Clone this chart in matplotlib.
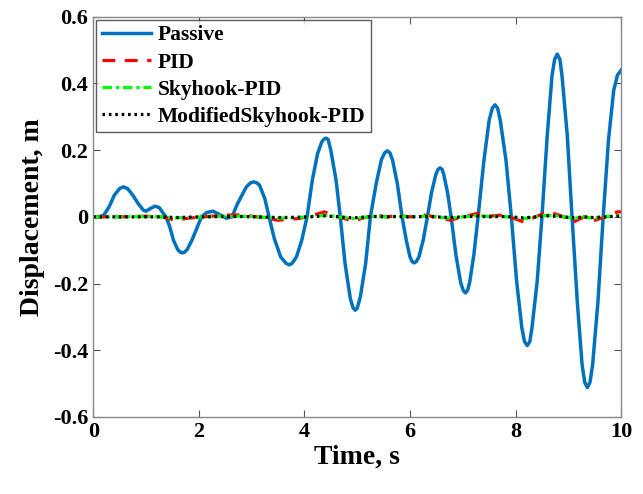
import matplotlib
matplotlib.use("Agg")
import matplotlib.pyplot as plt

plt.rcParams['font.family'] = ['Liberation Serif', 'DejaVu Serif']
plt.rcParams['font.weight'] = 'bold'

# passive response (time s, displacement m)
t_passive = [0.0, 0.1, 0.2, 0.3, 0.4, 0.5, 0.57, 0.65, 0.75, 0.85, 0.95, 1.0,
             1.08, 1.17, 1.25, 1.32, 1.38, 1.45, 1.52, 1.6, 1.65, 1.69, 1.73, 1.78, 1.87,
             1.96, 2.05, 2.15, 2.27, 2.38, 2.52, 2.63, 2.72, 2.8, 2.9, 2.98, 3.04, 3.1,
             3.15, 3.25, 3.33, 3.43, 3.55, 3.65, 3.71, 3.77, 3.85, 3.95, 4.05, 4.15, 4.25,
             4.33, 4.37, 4.41, 4.45, 4.5, 4.6, 4.68, 4.77, 4.87, 4.92, 4.96, 5.0, 5.06, 5.16, 5.25,
             5.36, 5.46, 5.52, 5.57, 5.62, 5.67, 5.76, 5.85, 5.93, 6.0, 6.04, 6.08, 6.12, 6.17, 6.25,
             6.33, 6.41, 6.49, 6.53, 6.57, 6.61, 6.64, 6.71, 6.78, 6.87, 6.96, 7.01, 7.05, 7.09, 7.13,
             7.21, 7.29, 7.4, 7.5, 7.56, 7.61, 7.66, 7.71, 7.82, 7.92, 8.02, 8.12, 8.17, 8.22, 8.27,
             8.31, 8.41, 8.5, 8.6, 8.69, 8.74, 8.79, 8.84, 8.88, 8.98, 9.07, 9.17, 9.26, 9.31,
             9.36, 9.41, 9.46, 9.56, 9.66, 9.76, 9.86, 9.93, 10.0]
y_passive = [0.0, 0.0, 0.005, 0.03, 0.065, 0.085, 0.09, 0.085, 0.065, 0.04, 0.02, 0.017,
             0.025, 0.032, 0.028, 0.012, 0.0, -0.03, -0.07, -0.098, -0.106, -0.108, -0.106, -0.098, -0.07,
             -0.035, 0.0, 0.013, 0.017, 0.008, -0.004, 0.0, 0.035, 0.06, 0.09, 0.102, 0.105, 0.102,
             0.095, 0.055, 0.0, -0.065, -0.12, -0.139, -0.144, -0.139, -0.12, -0.07, 0.0, 0.11, 0.19,
             0.225, 0.233, 0.236, 0.232, 0.2, 0.11, 0.0, -0.14, -0.245, -0.272, -0.28, -0.274, -0.24, -0.14, 0.0,
             0.1, 0.172, 0.192, 0.198, 0.192, 0.17, 0.1, 0.0, -0.07, -0.12, -0.134, -0.138, -0.134, -0.12, -0.07,
             0.0, 0.074, 0.127, 0.142, 0.147, 0.142, 0.127, 0.074, 0.0, -0.114, -0.197, -0.221, -0.228, -0.221, -0.197,
             -0.114, 0.0, 0.168, 0.29, 0.326, 0.336, 0.326, 0.29, 0.168, 0.0, -0.193, -0.334, -0.374, -0.386, -0.374,
             -0.334, -0.193, 0.0, 0.244, 0.423, 0.472, 0.488, 0.472, 0.423, 0.244, 0.0, -0.256, -0.443, -0.496,
             -0.512, -0.496, -0.443, -0.256, 0.0, 0.23, 0.38, 0.425, 0.44]

# controlled responses (small wiggles around zero)
t_ctrl = [0.0, 0.5, 1.0, 1.3, 1.55, 1.8, 2.1, 2.45, 2.8, 3.1, 3.5, 3.9, 4.1,
          4.38, 4.65, 4.92, 5.1, 5.35, 5.55, 5.78, 6.0, 6.29, 6.5, 6.76, 7.0,
          7.27, 7.5, 7.7, 7.92, 8.15, 8.38, 8.6, 8.85, 9.1, 9.3, 9.47, 9.7, 9.93, 10.0]
y_pid = [0.0, 0.0, 0.002, 0.0, -0.01, -0.004, 0.0, 0.005, 0.006, 0.0, -0.01, -0.005, 0.002,
         0.015, 0.0, -0.013, -0.004, 0.006, 0.0, 0.004, 0.0, 0.005, 0.0, -0.01, 0.0,
         0.01, 0.002, 0.005, -0.002, -0.015, 0.0, 0.015, 0.004, -0.015, 0.0, -0.012, 0.0, 0.015, 0.015]
y_sky = [0.0, 0.0, 0.001, 0.0, -0.003, -0.002, 0.0, 0.002, 0.002, 0.0, -0.004, -0.002, 0.001,
         0.005, 0.0, -0.005, -0.002, 0.002, 0.0, 0.002, 0.0, 0.002, 0.0, -0.004, 0.0,
         0.004, 0.001, 0.002, -0.001, -0.005, 0.0, 0.005, 0.002, -0.005, 0.0, -0.004, 0.0, 0.004, 0.004]
y_mod = [0.0, 0.0, 0.0, 0.0, -0.002, -0.001, 0.0, 0.001, 0.001, 0.0, -0.002, -0.001, 0.0,
         0.003, 0.0, -0.003, -0.001, 0.001, 0.0, 0.001, 0.0, 0.001, 0.0, -0.002, 0.0,
         0.002, 0.0, 0.001, 0.0, -0.003, 0.0, 0.003, 0.001, -0.003, 0.0, -0.002, 0.0, 0.002, 0.002]

fig = plt.figure(figsize=(6.43, 4.94), dpi=100)
ax = fig.add_axes([0.145, 0.156, 0.821, 0.81])

ax.plot(t_passive, y_passive, color='#0072BD', lw=2.5, label='Passive')
ax.plot(t_ctrl, y_pid, color='red', lw=2.3, ls=(0, (4, 3)), label='PID')
ax.plot(t_ctrl, y_sky, color='#00FF00', lw=2.3, ls=(0, (3, 1.2, 1, 1.2)), label='Skyhook-PID')
ax.plot(t_ctrl, y_mod, color='black', lw=2.3, ls=(0, (0.8, 1.2)), label='ModifiedSkyhook-PID')

ax.set_xlim(0, 10)
ax.set_ylim(-0.6, 0.6)
ax.set_xticks([0, 2, 4, 6, 8, 10])
ax.set_yticks([-0.6, -0.4, -0.2, 0, 0.2, 0.4, 0.6])
ax.set_yticklabels(['-0.6', '-0.4', '-0.2', '0', '0.2', '0.4', '0.6'])
ax.tick_params(direction='in', top=True, right=True, labelsize=16, length=5,
               color='#555555', width=0.8)
for s in ax.spines.values():
    s.set_color('#888888')
    s.set_linewidth(1.0)

ax.set_xlabel('Time, s', fontsize=20, fontweight='bold', labelpad=2)
ax.set_ylabel('Displacement, m', fontsize=20, fontweight='bold', labelpad=6)

leg = ax.legend(loc='upper left', fontsize=15.5, frameon=True, fancybox=False,
                handlelength=2.3, handletextpad=0.3, borderpad=0.25, labelspacing=0.33,
                borderaxespad=0.15)
leg.get_frame().set_edgecolor('#333333')
leg.get_frame().set_linewidth(1.0)
for txt in leg.get_texts():
    txt.set_fontweight('bold')

fig.savefig('out.png', dpi=100)
